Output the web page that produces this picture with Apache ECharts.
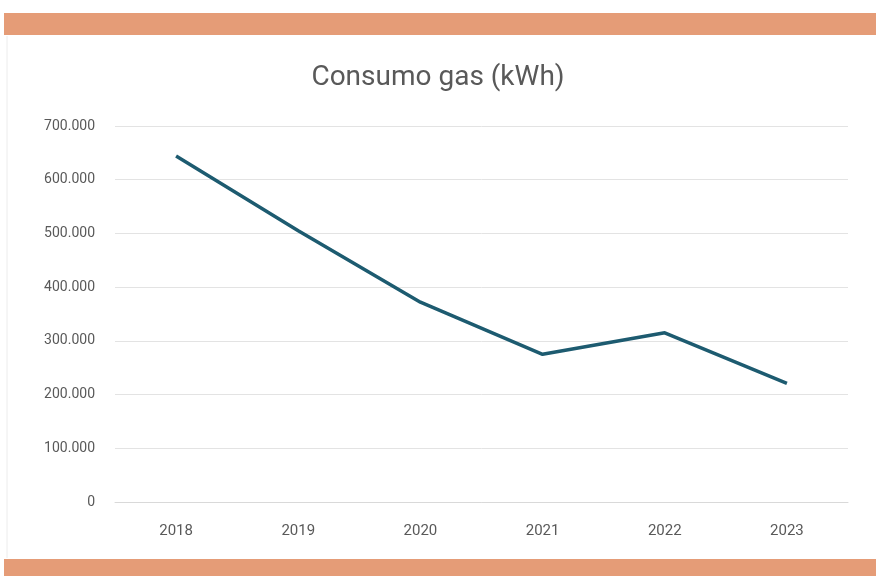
<!DOCTYPE html>
<html>
<head>
<meta charset="utf-8">
<script src="https://cdn.jsdelivr.net/npm/echarts@6/dist/echarts.min.js"></script>
<style>
  html, body { margin: 0; padding: 0; background: #fff; }
  #main { width: 876px; height: 576px; }
</style>
</head>
<body>
<div id="main"></div>
<script>
  // dati
  var years = ['2018', '2019', '2020', '2021', '2022', '2023'];
  var consumo = [644000, 505000, 372000, 275000, 315000, 221000];

  var myChart = echarts.init(document.getElementById('main'));

  var fmt = function (v) {
    if (v === 0) return '0';
    return String(v).replace(/\B(?=(\d{3})+(?!\d))/g, '.');
  };

  var font = 'Roboto, "Liberation Sans", sans-serif';

  var option = {
    backgroundColor: '#ffffff',
    animation: false,
    title: {
      text: 'Consumo gas (kWh)',
      left: 'center',
      top: 59,
      textStyle: {
        fontFamily: font,
        fontWeight: 'normal',
        fontSize: 28,
        color: '#595959'
      }
    },
    graphic: [
      { type: 'rect', shape: { x: 4, y: 13, width: 872, height: 22 }, style: { fill: '#e59c77' } },
      { type: 'rect', shape: { x: 4, y: 559, width: 872, height: 17 }, style: { fill: '#e59c77' } },
      { type: 'line', shape: { x1: 7, y1: 36, x2: 7, y2: 558 }, style: { stroke: '#ececec', lineWidth: 1 } }
    ],
    grid: {
      left: 115,
      right: 28,
      top: 126,
      bottom: 74
    },
    xAxis: {
      type: 'category',
      data: years,
      boundaryGap: true,
      axisLine: { show: true, lineStyle: { color: '#d9d9d9', width: 1 } },
      axisTick: { show: false },
      axisLabel: {
        color: '#595959',
        fontFamily: font,
        fontSize: 15,
        margin: 22
      }
    },
    yAxis: {
      type: 'value',
      min: 0,
      max: 700000,
      interval: 100000,
      axisLine: { show: false },
      axisTick: { show: false },
      splitLine: { lineStyle: { color: '#e3e3e3', width: 1 } },
      axisLabel: {
        color: '#595959',
        fontFamily: font,
        fontSize: 14,
        margin: 20,
        formatter: fmt
      }
    },
    series: [
      {
        name: 'Consumo gas',
        type: 'line',
        data: consumo,
        symbol: 'none',
        lineStyle: { color: '#1d5b70', width: 3.5 }
      }
    ]
  };
  myChart.setOption(option, true);
</script>
</body>
</html>
